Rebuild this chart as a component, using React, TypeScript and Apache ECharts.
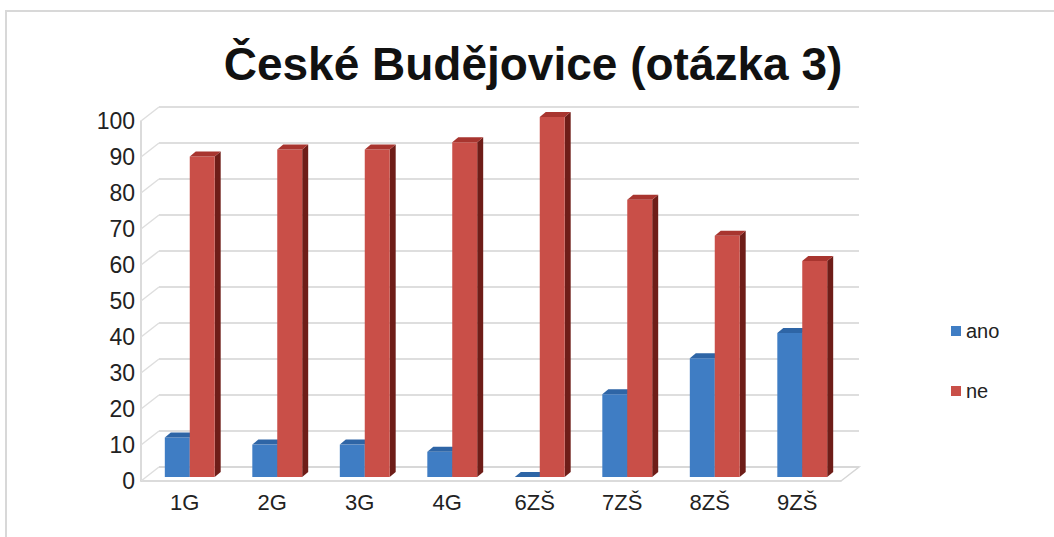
import React, { useEffect, useRef } from "react";
import * as echarts from "echarts";

const categories = ["1G", "2G", "3G", "4G", "6ZŠ", "7ZŠ", "8ZŠ", "9ZŠ"];
const anoValues = [11, 9, 9, 7, 0, 23, 33, 40];
const neValues = [89, 91, 91, 93, 100, 77, 67, 60];
const yTicks = [0, 10, 20, 30, 40, 50, 60, 70, 80, 90, 100];

const DX = 18;
const DY = 14;
const BAR_OX = 5;
const BAR_OY = 4;
const BAR_DX = 6;
const BAR_DY = 5;

const faces = {
  ano: { front: "#3f7dc4", top: "#2e65a6", side: "#1f4a7c" },
  ne: { front: "#c94f48", top: "#a8352f", side: "#6e1d18" },
};

function makeBarRender(side: "left" | "right", col: { front: string; top: string; side: string }) {
  return (params: any, api: any) => {
    const idx = api.value(0);
    const val = api.value(1);
    const base = api.coord([idx, 0]);
    const topPt = api.coord([idx, val]);
    const catW = api.size([1, 0])[0];
    const bw = catW * 0.285;
    const cx = base[0] + BAR_OX;
    const x0 = side === "left" ? cx - bw : cx;
    const by = base[1] - BAR_OY;
    const ty = topPt[1] - BAR_OY;
    const children: any[] = [];
    children.push({
      type: "polygon",
      shape: { points: [[x0 + bw, ty], [x0 + bw + BAR_DX, ty - BAR_DY], [x0 + bw + BAR_DX, by - BAR_DY], [x0 + bw, by]] },
      style: { fill: col.side },
    });
    children.push({
      type: "rect",
      shape: { x: x0, y: ty, width: bw, height: Math.max(by - ty, 0) },
      style: { fill: col.front },
    });
    children.push({
      type: "polygon",
      shape: { points: [[x0, ty], [x0 + bw, ty], [x0 + bw + BAR_DX, ty - BAR_DY], [x0 + BAR_DX, ty - BAR_DY]] },
      style: { fill: col.top },
    });
    return { type: "group", children };
  };
}

export default function App() {
  const ref = useRef<HTMLDivElement>(null);
  useEffect(() => {
    if (!ref.current) return;
    const chart = echarts.init(ref.current, undefined, { renderer: "svg" });
    const font = "'Liberation Sans', Arial, sans-serif";
    const option: any = {
      animation: false,
      backgroundColor: "#ffffff",
      title: {
        text: "České Budějovice (otázka 3)",
        left: 528,
        textAlign: "center",
        top: 36,
        textStyle: { fontFamily: font, fontSize: 46, fontWeight: "bold", color: "#111" },
      },
      legend: {
        orient: "vertical",
        left: 946,
        top: 316,
        itemWidth: 10,
        itemHeight: 10,
        itemGap: 40,
        icon: "rect",
        textStyle: { fontFamily: font, fontSize: 20, color: "#222" },
        data: ["ano", "ne"],
      },
      graphic: [
        {
          type: "rect",
          shape: { x: 6, y: 11, width: 1060, height: 540 },
          style: { fill: "none", stroke: "#d8d8d8", lineWidth: 2 },
          silent: true,
        },
      ],
      grid: [
        { left: 141, right: 213, top: 121, bottom: 56 },
        { left: 141 + DX, right: 213 - DX, top: 121 - DY, bottom: 56 + DY },
      ],
      xAxis: [
        {
          type: "category",
          gridIndex: 0,
          data: categories,
          axisLine: { show: true, lineStyle: { color: "#cfcfcf", width: 1.5 } },
          axisTick: { show: false },
          axisLabel: { fontFamily: font, fontSize: 22, color: "#222", margin: 10 },
          splitLine: { show: false },
        },
        {
          type: "category",
          gridIndex: 1,
          data: categories,
          show: false,
        },
      ],
      yAxis: [
        {
          type: "value",
          gridIndex: 0,
          min: 0,
          max: 100,
          interval: 10,
          axisLine: { show: true, lineStyle: { color: "#cfcfcf", width: 1.5 } },
          axisTick: { show: false },
          axisLabel: { fontFamily: font, fontSize: 23, color: "#222", margin: 6 },
          splitLine: { show: false },
        },
        {
          type: "value",
          gridIndex: 1,
          min: 0,
          max: 100,
          interval: 10,
          axisLine: { show: false },
          axisTick: { show: false },
          axisLabel: { show: false },
          splitLine: { show: true, lineStyle: { color: "#dedede", width: 2 } },
        },
      ],
      series: [
        {
          type: "custom",
          name: "frame",
          xAxisIndex: 0,
          yAxisIndex: 0,
          data: yTicks.map((v) => [0, v]),
          silent: true,
          z: 1,
          renderItem: (params: any, api: any) => {
            const v = api.value(1);
            const p = api.coord([0, v]);
            const catW = api.size([1, 0])[0];
            const x0 = p[0] - catW / 2;
            const children: any[] = [
              {
                type: "line",
                shape: { x1: x0, y1: p[1], x2: x0 + DX, y2: p[1] - DY },
                style: { stroke: "#dedede", lineWidth: 1.5 },
              },
            ];
            if (v === 0) {
              const pr = api.coord([categories.length - 1, 0]);
              const x1 = pr[0] + catW / 2;
              children.push({
                type: "polyline",
                shape: { points: [[x1, p[1]], [x1 + DX, p[1] - DY], [x0 + DX, p[1] - DY]] },
                style: { stroke: "#d6d6d6", lineWidth: 1.5, fill: "none" },
              });
            }
            return { type: "group", children };
          },
        },
        {
          type: "custom",
          name: "ano",
          xAxisIndex: 0,
          yAxisIndex: 0,
          itemStyle: { color: "#3f7dc4" },
          data: anoValues.map((v, i) => [i, v]),
          renderItem: makeBarRender("left", faces.ano),
          z: 2,
        },
        {
          type: "custom",
          name: "ne",
          xAxisIndex: 0,
          yAxisIndex: 0,
          itemStyle: { color: "#c94f48" },
          data: neValues.map((v, i) => [i, v]),
          renderItem: makeBarRender("right", faces.ne),
          z: 3,
        },
      ],
    };
    chart.setOption(option);
    return () => chart.dispose();
  }, []);
  return (
    <div
      ref={ref}
      style={{ position: "fixed", left: 0, top: 0, width: 1054, height: 537 }}
    />
  );
}
